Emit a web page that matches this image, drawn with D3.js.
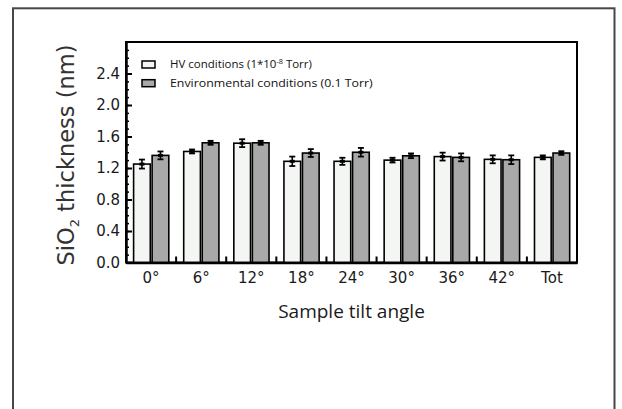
<!DOCTYPE html>
<html>
<head>
<meta charset="utf-8">
<script src="https://cdn.jsdelivr.net/npm/d3@7"></script>
<style>
  body { margin: 0; background: #fff; }
  svg { display: block; }
</style>
</head>
<body>
<div id="chart"></div>
<script>
// values
const categories = ['0°', '6°', '12°', '18°', '24°', '30°', '36°', '42°', 'Tot'];
const seriesKeys = ['hv', 'env'];
const hvValues  = [1.25, 1.41, 1.515, 1.285, 1.285, 1.30, 1.345, 1.31, 1.335];
const hvErrors  = [0.057, 0.025, 0.05, 0.06, 0.045, 0.03, 0.05, 0.05, 0.025];
const envValues = [1.36, 1.52, 1.52, 1.39, 1.40, 1.355, 1.335, 1.305, 1.39];
const envErrors = [0.05, 0.025, 0.025, 0.05, 0.055, 0.03, 0.05, 0.055, 0.023];
const yTicks = [0, 0.4, 0.8, 1.2, 1.6, 2.0, 2.4];
const yMinorTicks = d3.range(0, 28).map(i => i / 10);

const width = 622, height = 409;
const margin = {top: 42, right: 45, bottom: 146.5, left: 126};
const w = width - margin.left - margin.right,
  h = height - margin.top - margin.bottom;

const fills = {hv: '#f4f6f4', env: '#a9a9a9'};

let svg = d3.select('#chart').append('svg')
  .attr('width', width)
  .attr('height', height);

// outer border of the figure
svg.append('rect')
  .attr('x', 13).attr('y', 8.3)
  .attr('width', 601.5).attr('height', 430)
  .attr('fill', 'none')
  .attr('stroke', '#474747')
  .attr('stroke-width', 2);

let x = d3.scaleBand().domain(categories).range([0, w]).padding(0),
  xSub = d3.scaleBand().domain(seriesKeys).range([7.6, 42.8]).paddingInner(0.1),
  y = d3.scaleLinear().domain([0, 2.8]).range([h, 0]);

let data = categories.map((c, i) => ({
  cat: c,
  bars: [
    {key: 'hv', value: hvValues[i], err: hvErrors[i]},
    {key: 'env', value: envValues[i], err: envErrors[i]}
  ]
}));

let g = svg.append('g')
  .attr('transform', 'translate(' + margin.left + ',' + margin.top + ')');

// plot frame
g.append('rect')
  .attr('width', w).attr('height', h)
  .attr('fill', 'none')
  .attr('stroke', '#000')
  .attr('stroke-width', 2);

let groups = g.selectAll('.grp')
  .data(data)
  .enter()
    .append('g')
    .attr('class', 'grp')
    .attr('transform', d => 'translate(' + x(d.cat) + ',0)');

groups.selectAll('.bar')
  .data(d => d.bars)
  .enter()
    .append('rect')
    .attr('class', 'bar')
    .attr('x', d => xSub(d.key))
    .attr('y', d => y(d.value))
    .attr('width', xSub.bandwidth())
    .attr('height', d => h - y(d.value))
    .attr('fill', d => fills[d.key])
    .attr('stroke', '#000')
    .attr('stroke-width', 1.6);

// error bars
let eb = groups.selectAll('.err')
  .data(d => d.bars)
  .enter()
    .append('g')
    .attr('class', 'err')
    .attr('transform', d => 'translate(' + (xSub(d.key) + xSub.bandwidth() / 2) + ',0)');

eb.append('line')
  .attr('y1', d => y(d.value + d.err))
  .attr('y2', d => y(d.value - d.err))
  .attr('stroke', '#000')
  .attr('stroke-width', 1.6);

eb.selectAll('.cap')
  .data(d => [d.value + d.err, d.value - d.err])
  .enter()
    .append('line')
    .attr('x1', -3).attr('x2', 3)
    .attr('y1', v => y(v)).attr('y2', v => y(v))
    .attr('stroke', '#000')
    .attr('stroke-width', 1.8);

eb.append('rect')
  .attr('x', -2.5)
  .attr('y', d => y(d.value) - 1.5)
  .attr('width', 5).attr('height', 3)
  .attr('fill', '#000');

// y axis, ticks pointing inward
let yAxisMinor = d3.axisLeft(y).tickValues(yMinorTicks).tickSize(-3).tickFormat('');
g.append('g')
  .call(yAxisMinor)
  .call(s => s.select('.domain').remove())
  .selectAll('line').attr('stroke-width', 1.5);

let yAxis = d3.axisLeft(y)
  .tickValues(yTicks)
  .tickSizeInner(-6)
  .tickSizeOuter(0)
  .tickPadding(6)
  .tickFormat(d3.format('.1f'));

let yg = g.append('g').call(yAxis);
yg.select('.domain').attr('stroke-width', 2.5);
yg.selectAll('line').attr('stroke-width', 2);
yg.selectAll('text')
  .attr('font-family', 'DejaVu Sans')
  .attr('font-size', 15)
  .attr('fill', '#1a1a1a');

// x axis, labels centred in the band, ticks on the band edges
let xAxis = d3.axisBottom(x).tickSize(0).tickPadding(10);
let xg = g.append('g')
  .attr('transform', 'translate(0,' + h + ')')
  .call(xAxis);
xg.select('.domain').attr('stroke-width', 2.5);
xg.selectAll('text')
  .attr('font-family', 'DejaVu Sans')
  .attr('font-size', 15)
  .attr('fill', '#1a1a1a');

let edges = categories.map(c => x(c)).concat([x(categories[categories.length - 1]) + x.bandwidth()]);
g.selectAll('.xedge')
  .data(edges.slice(1))
  .enter()
    .append('line')
    .attr('class', 'xedge')
    .attr('x1', d => d).attr('x2', d => d)
    .attr('y1', h).attr('y2', h - 6)
    .attr('stroke', '#000')
    .attr('stroke-width', 2);

// axis titles
svg.append('text')
  .attr('x', margin.left + w / 2)
  .attr('y', 318)
  .attr('text-anchor', 'middle')
  .attr('font-family', 'Open Sans')
  .attr('font-size', 19)
  .attr('fill', '#1a1a1a')
  .text('Sample tilt angle');

let yt = svg.append('text')
  .attr('transform', 'translate(74,155) rotate(-90)')
  .attr('text-anchor', 'middle')
  .attr('font-family', 'DejaVu Sans')
  .attr('font-size', 22.5)
  .attr('fill', '#333');
yt.append('tspan').text('SiO');
yt.append('tspan').attr('font-size', 13).attr('dy', 5).text('2');
yt.append('tspan').attr('dy', -5).text(' thickness (nm)');

// legend
let legendItems = [
  {key: 'hv', parts: ['HV conditions (1*10', '-8', ' Torr)'], width: 142},
  {key: 'env', parts: ['Environmental conditions (0.1 Torr)'], width: 203}
];

let lg = svg.append('g').attr('transform', 'translate(142,61)');
legendItems.forEach((item, i) => {
  let row = lg.append('g').attr('transform', 'translate(0,' + (i * 18.7) + ')');
  row.append('rect')
    .attr('width', 13).attr('height', 7)
    .attr('fill', fills[item.key])
    .attr('stroke', '#000')
    .attr('stroke-width', 1.5);
  let t = row.append('text')
    .attr('font-family', 'Open Sans')
    .attr('font-size', 11)
    .attr('fill', '#111')
    .attr('y', 7.3);
  item.parts.forEach((p, j) => {
    let ts = t.append('tspan').text(p);
    if (j == 1) ts.attr('font-size', 7).attr('dy', -4);
    if (j == 2) ts.attr('dy', 4);
  });
  let tl = t.node().getComputedTextLength();
  t.attr('transform', 'translate(28,0) scale(' + (item.width / tl) + ',1)');
});
</script>
</body>
</html>
